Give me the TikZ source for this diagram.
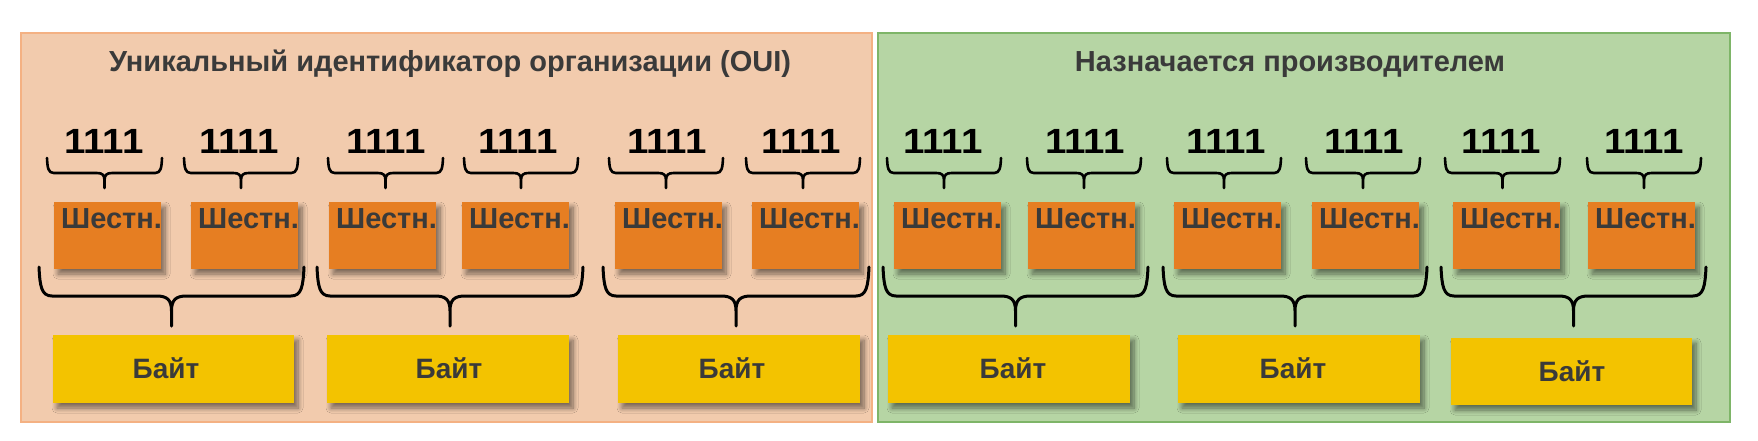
\documentclass[tikz,border=0pt]{standalone}
\usepackage{fontspec}
\setmainfont{Liberation Sans}
\usetikzlibrary{shadows.blur}
\definecolor{peach}{HTML}{F2CBAD}
\definecolor{peachline}{HTML}{F4B183}
\definecolor{greenfill}{HTML}{B6D5A4}
\definecolor{greenline}{HTML}{7EB568}
\definecolor{hexorange}{HTML}{E67E22}
\definecolor{byteyellow}{HTML}{F3C300}
\definecolor{txtgray}{HTML}{3A3A3A}
\newcommand\mybrace[6]{%
  \pgfmathsetmacro\bxm{(#1+#2)/2}%
  \pgfmathsetmacro\bdd{#4-#3}%
  \pgfmathsetmacro\bee{#5-#4}%
  \draw[braceline, line width=#6]
    (#1,#3) .. controls ({#1+0.03*\bdd},{#4-0.35*\bdd}) and ({#1+0.08*\bdd},#4) .. ({#1+0.45*\bdd},#4)
    -- ({\bxm-0.5*\bee},#4) .. controls ({\bxm-0.15*\bee},#4) and (\bxm,{#4+0.12*\bee}) .. (\bxm,{#4+0.5*\bee})
    -- (\bxm,#5)
    (#2,#3) .. controls ({#2-0.03*\bdd},{#4-0.35*\bdd}) and ({#2-0.08*\bdd},#4) .. ({#2-0.45*\bdd},#4)
    -- ({\bxm+0.5*\bee},#4) .. controls ({\bxm+0.15*\bee},#4) and (\bxm,{#4+0.12*\bee}) .. (\bxm,{#4+0.5*\bee});
}
\begin{document}
\begin{tikzpicture}[x=1pt,y=-1pt,
  panel/.style={rectangle, inner sep=0pt, outer sep=0pt},
  titletxt/.style={anchor=base, text=txtgray, font=\fontsize{29}{34}\selectfont\bfseries, inner sep=0pt},
  bits/.style={anchor=base, text=black, font=\fontsize{35}{40}\selectfont\bfseries, inner sep=0pt},
  hexbox/.style={rectangle, fill=hexorange, minimum width=107pt, minimum height=67pt, inner sep=0pt,
    blur shadow={shadow xshift=4pt, shadow yshift=-5pt, shadow blur radius=5pt, shadow blur steps=8, shadow opacity=50}},
  hextxt/.style={anchor=base west, text=txtgray, font=\fontsize{29}{34}\selectfont\bfseries, inner sep=0pt},
  bytebox/.style={rectangle, fill=byteyellow, minimum width=241pt, minimum height=68pt, inner sep=0pt,
    blur shadow={shadow xshift=4pt, shadow yshift=-5pt, shadow blur radius=5pt, shadow blur steps=8, shadow opacity=50}},
  bytetxt/.style={anchor=base, text=txtgray, font=\fontsize{28}{33}\selectfont\bfseries, inner sep=0pt},
  braceline/.style={draw=black, line cap=round, line join=round}
]
\useasboundingbox (0,0) rectangle (1758,440);
\node[panel, fill=peach, draw=peachline, line width=2pt, minimum width=851pt, minimum height=389pt] (oui) at (446.5,227.5) {};
\node[panel, fill=greenfill, draw=greenline, line width=2.5pt, minimum width=852pt, minimum height=389pt] (vendor) at (1304,227.5) {};
\node[titletxt] (title1) at (450,71) {Уникальный идентификатор организации (OUI)};
\node[titletxt] (title2) at (1290,71) {Назначается производителем};
% bits labels
\foreach \i/\x in {1/104,2/239,3/386,4/518,5/667,6/801,7/943,8/1085,9/1226,10/1364,11/1501,12/1644}
  \node[bits] (n\i) at (\x,153) {\scalebox{1.1}[1]{1111}};
% small braces
\foreach \l/\r in {47/162,184/298,328/443,464/578,609/723,746/860,887/1001,1027/1141,1167/1281,1306/1420,1445/1560,1587/1701}
  \mybrace{\l}{\r}{158}{173}{188}{2.6pt};
% hex boxes
\foreach \i/\x in {1/54,2/191,3/329,4/462,5/615,6/752,7/894,8/1028,9/1174,10/1312,11/1453,12/1588}{
  \node[hexbox] (h\i) at (\x+53.5,235.5) {};
  \node[hextxt] (t\i) at (\x+7,228) {Шестн.};
}
% large braces
\foreach \l/\r in {39/304,317/583,603/869,883/1148,1163/1427,1441/1706}
  \mybrace{\l}{\r}{267}{296}{326}{3pt};
% byte boxes
\foreach \i/\l/\r/\t/\b/\tx in {1/53/294/335/403/166,2/327/569/335/403/449,3/618/860/335/403/732,4/888/1130/335/403/1013,5/1178/1420/335/403/1293,6/1451/1692/338/405/1572}{
  \node[bytebox, minimum width={\r-\l}, minimum height={\b-\t}] (b\i) at ({(\l+\r)/2},{(\t+\b)/2}) {};
  \node[bytetxt] (bt\i) at (\tx,{\t+43}) {Байт};
}
\end{tikzpicture}
\end{document}
